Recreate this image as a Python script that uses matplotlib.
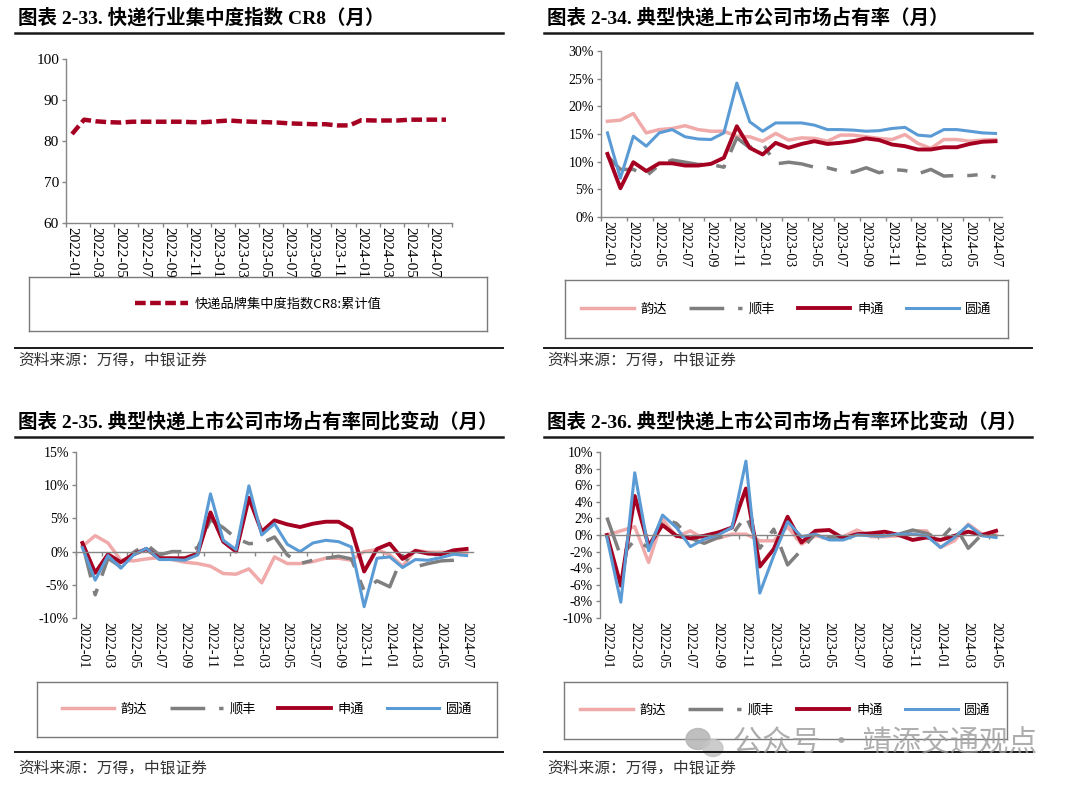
import numpy as np
import pandas as pd
import matplotlib
matplotlib.use("Agg")
import matplotlib.pyplot as plt
from matplotlib.lines import Line2D
from matplotlib.patches import Ellipse

plt.rcParams['font.family'] = ['Liberation Serif', 'Noto Sans CJK SC', 'DejaVu Sans']
plt.rcParams['axes.unicode_minus'] = False

# ---- data ----
months_cr8 = pd.period_range('2022-01', '2024-08', freq='M').strftime('%Y-%m').tolist()
months_31 = pd.period_range('2022-01', '2024-07', freq='M').strftime('%Y-%m').tolist()
months_29 = pd.period_range('2022-01', '2024-05', freq='M').strftime('%Y-%m').tolist()

cr8 = [81.7, 85.2, 84.8, 84.6, 84.5, 84.7, 84.7, 84.7, 84.7, 84.7, 84.6, 84.6,
       84.8, 85.0, 84.8, 84.7, 84.6, 84.5, 84.3, 84.2, 84.1, 84.1, 83.8, 83.8,
       85.1, 85.0, 85.0, 85.0, 85.2, 85.2, 85.2, 85.2]

yunda_share = [17.3, 17.5, 18.7, 15.2, 15.8, 16.0, 16.5, 15.8, 15.5, 15.5, 14.6, 14.5,
               13.7, 15.1, 13.9, 14.3, 14.2, 13.7, 14.8, 14.8, 14.5, 14.2, 14.0, 14.9,
               13.3, 12.4, 14.0, 14.0, 13.7, 13.9, 14.0]
sf_share = [11.0, 8.6, 8.6, 7.4, 9.4, 10.3, 9.9, 9.5, 9.5, 9.0, 14.3, 12.5,
            13.3, 9.6, 9.9, 9.6, 9.0, 8.9, 8.3, 8.1, 8.9, 8.0, 8.6, 8.4,
            7.8, 8.6, 7.4, 7.5, 7.5, 7.7, 7.2]
sto_share = [11.4, 5.2, 9.9, 8.3, 9.7, 9.7, 9.3, 9.3, 9.6, 10.7, 16.4, 12.5,
             11.3, 13.4, 12.5, 13.2, 13.7, 13.2, 13.4, 13.7, 14.2, 13.9, 13.1, 12.8,
             12.2, 12.2, 12.6, 12.6, 13.2, 13.6, 13.7]
yto_share = [15.2, 7.0, 14.6, 12.8, 15.2, 15.8, 14.5, 14.1, 14.0, 15.2, 24.2, 17.2,
             15.5, 17.0, 17.0, 17.0, 16.6, 15.8, 15.8, 15.7, 15.5, 15.6, 16.0, 16.2,
             14.8, 14.6, 15.8, 15.8, 15.5, 15.2, 15.1]

yunda_yoy = [0.8, 2.4, 1.3, -1.3, -1.4, -1.1, -0.9, -1.2, -1.6, -1.8, -2.2, -3.3,
             -3.4, -2.6, -4.7, -0.8, -1.8, -1.8, -1.5, -1.0, -1.0, -1.3, 0.0, 0.3,
             -0.5, -2.2, 0.2, -0.1, -0.1, -0.2, -0.2]
sf_yoy = [1.2, -6.5, -1.0, -2.3, -0.1, 1.1, -0.5, 0.0, 0.0, 0.6, 4.8, 3.6,
          2.0, 1.2, 1.3, 2.2, -0.5, -1.8, -1.3, -1.0, -0.7, -1.1, -5.9, -4.4,
          -5.3, -0.6, -2.3, -1.8, -1.4, -1.3, -1.0]
sto_yoy = [1.3, -3.2, -0.4, -1.6, -0.4, 0.4, -1.0, -1.0, -1.0, -0.3, 5.9, 1.5,
           0.0, 8.1, 3.0, 4.7, 4.1, 3.7, 4.2, 4.5, 4.5, 3.4, -3.0, 0.4,
           1.2, -1.1, 0.1, -0.3, -0.4, 0.2, 0.4]
yto_yoy = [0.6, -4.3, -0.6, -2.5, -0.5, 0.5, -1.2, -1.2, -1.3, -0.5, 8.7, 1.7,
           0.3, 9.9, 2.5, 4.2, 1.1, 0.0, 1.3, 1.7, 1.5, 0.7, -8.3, -1.0,
           -0.8, -2.4, -1.2, -1.3, -0.9, -0.4, -0.6]

yunda_mom = [0.0, 0.5, 1.0, -3.3, 1.9, -0.2, 0.5, -0.5, -0.4, 0.1, 0.1, -0.7,
             -0.7, 1.0, -1.1, -0.1, -0.4, -0.2, 0.6, -0.2, -0.2, -0.1, 0.5, 0.5,
             -1.5, -0.7, 1.3, 0.1, 0.0]
sf_mom = [2.1, -2.6, -0.6, -1.5, 2.0, 1.4, -0.4, -1.0, -0.3, 0.0, 2.3, -1.6,
          0.7, -3.6, -1.8, 0.2, -0.3, -0.4, 0.1, -0.1, -0.1, 0.1, 0.6, 0.2,
          -0.5, 1.3, -1.6, 0.1, -0.1]
sto_mom = [0.0, -6.1, 4.7, -1.3, 1.2, -0.1, -0.4, -0.1, 0.3, 0.9, 5.6, -3.8,
           -1.7, 2.2, -0.9, 0.5, 0.6, -0.4, 0.1, 0.2, 0.4, 0.0, -0.6, -0.3,
           -0.6, -0.1, 0.4, 0.0, 0.5]
yto_mom = [-0.3, -8.1, 7.5, -1.9, 2.4, 0.9, -1.4, -0.5, 0.0, 0.9, 8.9, -7.0,
           -2.5, 1.6, -0.2, 0.1, -0.6, -0.6, 0.0, -0.1, -0.1, 0.1, 0.1, -0.1,
           -1.5, -0.3, 1.2, -0.1, -0.3]

companies = ['韵达', '顺丰', '申通', '圆通']
colors = ['#F0AAAA', '#7F7F7F', '#A50021', '#5B9BD5']
widths = [2.5, 2.5, 2.8, 2.2]
styles = ['-', (0, (10, 4, 3, 4)), '-', '-']

W, H = 1080, 791
fig = plt.figure(figsize=(W / 100, H / 100), dpi=100)
CJK = ['Noto Sans CJK SC', 'DejaVu Sans']
AXC = '#868686'


def box(l, t, r, b):
    return [l / W, 1 - b / H, (r - l) / W, (b - t) / H]


def hline(x0, x1, y, lw):
    fig.add_artist(Line2D([x0 / W, x1 / W], [1 - y / H, 1 - y / H],
                          transform=fig.transFigure, color='#1a1a1a', lw=lw))


def header(x, y_title, y_rule, y_bottom, y_src, title):
    fig.text(x / W, 1 - y_title / H, title, fontsize=14, fontweight='bold',
             ha='left', va='center', family=['Liberation Serif', 'Noto Sans CJK SC'])
    hline(x - 3, x + 485, y_rule, 1.8)
    hline(x - 3, x + 485, y_bottom, 1.4)
    fig.text(x / W, 1 - y_src / H, '资料来源：万得，中银证券', fontsize=11.3,
             ha='left', va='center', family=CJK, color='#333333')


def setup(ax, labels, ylim, yticks, ylabels, zero=False, fs=10):
    n = len(labels)
    ax.set_xlim(-0.5, n - 0.5)
    ax.set_ylim(*ylim)
    ax.set_yticks(yticks)
    ax.set_yticklabels(ylabels, fontsize=fs)
    for s in ['top', 'right']:
        ax.spines[s].set_visible(False)
    for s in ['left', 'bottom']:
        ax.spines[s].set_color(AXC)
        ax.spines[s].set_linewidth(1.0)
    ax.tick_params(axis='y', colors=AXC, labelcolor='black', length=3, width=1, pad=2)
    ax.set_xticks(np.arange(-0.5, n, 2))
    ax.tick_params(axis='x', which='major', colors=AXC, length=3, width=1, labelbottom=False)
    pos = np.arange(0, n, 2)
    if zero:
        ax.spines['bottom'].set_position(('data', 0))
        sec = ax.secondary_xaxis('bottom')
        sec.spines['bottom'].set_visible(False)
        sec.set_xticks(pos)
        sec.set_xticklabels([labels[i] for i in pos], rotation=-90, fontsize=fs)
        sec.tick_params(length=0, pad=3)
    else:
        ax.set_xticks(pos, minor=True)
        ax.set_xticklabels([labels[i] for i in pos], minor=True, rotation=-90, fontsize=fs)
        ax.tick_params(axis='x', which='minor', length=0, pad=3, labelbottom=True)
    ax.patch.set_alpha(0)


def legend_box(bx, handles, texts, fs=9.5, hl=4.0, cs=1.7):
    lax = fig.add_axes(bx)
    lax.set_xticks([])
    lax.set_yticks([])
    for s in lax.spines.values():
        s.set_color('#7a7a7a')
        s.set_linewidth(1.0)
    lax.legend(handles, texts, loc='center', ncol=len(handles), frameon=False,
               prop={'family': CJK, 'size': fs}, handlelength=hl,
               handletextpad=0.5, columnspacing=cs)


def plot_four(ax, series):
    hs = []
    for vals, name, c, lw, ls in zip(series, companies, colors, widths, styles):
        h, = ax.plot(range(len(vals)), vals, color=c, lw=lw, linestyle=ls,
                     solid_joinstyle='round', label=name)
        hs.append(h)
    return hs


# ---- panel 1: CR8 ----
header(18, 18, 33, 348, 360, '图表 2-33. 快递行业集中度指数 CR8（月）')
ax1 = fig.add_axes(box(66, 59, 452, 223))
setup(ax1, months_cr8, (60, 100), [60, 70, 80, 90, 100],
      ['60', '70', '80', '90', '100'], fs=11)
h_cr8, = ax1.plot(range(len(cr8)), cr8, color='#A50021', lw=3.2,
                  linestyle=(0, (2.4, 1.0)), label='快递品牌集中度指数CR8:累计值')
legend_box(box(29, 277, 487, 331), [h_cr8], ['快递品牌集中度指数CR8:累计值'], hl=4.0)

# ---- panel 2: market share ----
header(547, 18, 33, 348, 360, '图表 2-34. 典型快递上市公司市场占有率（月）')
ax2 = fig.add_axes(box(601, 51, 1002, 217))
setup(ax2, months_31, (0, 30), [0, 5, 10, 15, 20, 25, 30],
      ['0%', '5%', '10%', '15%', '20%', '25%', '30%'])
hs2 = plot_four(ax2, [yunda_share, sf_share, sto_share, yto_share])
legend_box(box(565, 280, 1008, 338), hs2, companies)

# ---- panel 3: YoY ----
header(18, 422, 437, 752, 768, '图表 2-35. 典型快递上市公司市场占有率同比变动（月）')
ax3 = fig.add_axes(box(76, 452, 473, 618))
setup(ax3, months_31, (-10, 15), [-10, -5, 0, 5, 10, 15],
      ['-10%', '-5%', '0%', '5%', '10%', '15%'], zero=True)
hs3 = plot_four(ax3, [yunda_yoy, sf_yoy, sto_yoy, yto_yoy])
legend_box(box(37, 682, 497, 737), hs3, companies)

# ---- panel 4: MoM ----
header(547, 422, 437, 752, 768, '图表 2-36. 典型快递上市公司市场占有率环比变动（月）')
ax4 = fig.add_axes(box(600, 452, 1003, 618))
setup(ax4, months_29, (-10, 10), list(range(-10, 11, 2)),
      ['%d%%' % v for v in range(-10, 11, 2)], zero=True)
hs4 = plot_four(ax4, [yunda_mom, sf_mom, sto_mom, yto_mom])
legend_box(box(564, 682, 1007, 739), hs4, companies)

# ---- watermark ----
fig.add_artist(Ellipse((698 / W, 1 - 739 / H), 24 / W, 21 / H, transform=fig.transFigure,
                       color='#b4b4b4', alpha=0.85))
fig.add_artist(Ellipse((713 / W, 1 - 748 / H), 20 / W, 17 / H, transform=fig.transFigure,
                       color='#c4c4c4', alpha=0.85))
fig.text(733 / W, 1 - 743 / H, '公众号 · 靖添交通观点', fontsize=21, family=CJK,
         color='#9a9a9a', alpha=0.8, ha='left', va='center')

fig.savefig('out.png', dpi=100)
